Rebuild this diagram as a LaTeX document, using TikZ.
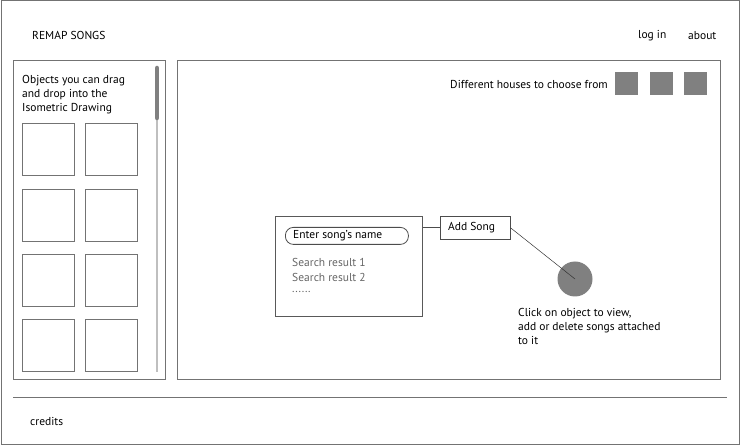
\documentclass[tikz,border=0pt]{standalone}
\usepackage{fontspec}
\setmainfont{PT Sans}
\begin{document}
\begin{tikzpicture}[x=1pt,y=-1pt,
  frame/.style={draw=black!55,line width=1pt},
  tile/.style={draw=black!55,line width=1pt,fill=white,minimum width=52pt,minimum height=52pt,inner sep=0pt,anchor=north west},
  swatch/.style={fill=black!50,minimum width=23pt,minimum height=23pt,inner sep=0pt,anchor=north west},
  label/.style={anchor=west,inner sep=0pt,font=\fontsize{11.5}{14}\selectfont,text=black},
  result/.style={label,text=black!60}]
\useasboundingbox (0,0) rectangle (740,446);
% page frame and footer rule
\draw[frame] (1,1) rectangle (739,445);
\coordinate (fl) at (13,398);
\coordinate (fr) at (727,398);
\draw[frame] (fl) -- (fr);
% header and footer texts
\node[label] (title) at (32,35.5) {REMAP SONGS};
\node[label] (login) at (638,35.5) {log in};
\node[label] (about) at (688,35.5) {about};
\node[label] (credits) at (30,421.5) {credits};
% object palette
\node[frame,minimum width=152pt,minimum height=319pt,inner sep=0pt,anchor=north west] (palette) at (13,60) {};
\coordinate (trackT) at (157,67);
\coordinate (trackB) at (157,372);
\draw[black!25,line width=2pt] (trackT) -- (trackB);
\coordinate (thumbT) at (157,68);
\coordinate (thumbB) at (157,118);
\draw[black!50,line width=4.5pt,line cap=round] (thumbT) -- (thumbB);
\node[label,align=left,anchor=north west] (hint) at (22,75) {Objects you can drag\\and drop into the\\Isometric Drawing};
\foreach \r/\y in {1/123,2/189,3/254,4/319}{
  \node[tile] (t\r a) at (22,\y) {};
  \node[tile] (t\r b) at (85,\y) {};
}
% drawing area
\node[frame,minimum width=543pt,minimum height=319pt,inner sep=0pt,anchor=north west] (canvas) at (177,60) {};
\node[label,anchor=east] (houses) at (608,84.5) {Different houses to choose from};
\node[swatch] (h1) at (615,72) {};
\node[swatch] (h2) at (650,72) {};
\node[swatch] (h3) at (684,72) {};
% search panel
\node[draw=black!65,line width=0.8pt,minimum width=147pt,minimum height=100pt,inner sep=0pt,anchor=north west] (search) at (275,216) {};
\node[draw=black!70,line width=0.8pt,rounded corners=8pt,minimum width=123pt,minimum height=17pt,inner sep=0pt,anchor=north west] (field) at (285,227) {};
\node[label] (fieldtext) at (293,236) {Enter song’s name};
\node[result] (r1) at (292,262.5) {Search result 1};
\node[result] (r2) at (292,277.5) {Search result 2};
\node[result] (r3) at (292,292) {......};
% add button and object
\node[draw=black!70,line width=0.8pt,minimum width=70pt,minimum height=23pt,inner sep=0pt,anchor=north west] (add) at (440,216) {};
\node[label] (addtext) at (448,228) {Add Song};
\draw[black!70,line width=0.8pt] (search.east |- add.west) -- (add.west);
\node[circle,fill=black!50,minimum size=35pt,inner sep=0pt] (obj) at (575,279) {};
\draw[black!80,line width=0.5pt] (add.north east) ++(0,12) -- (obj.center);
\node[label,align=left,anchor=north west] (objhint) at (518,308.5) {Click on object to view,\\add or delete songs attached\\to it};
\end{tikzpicture}
\end{document}
